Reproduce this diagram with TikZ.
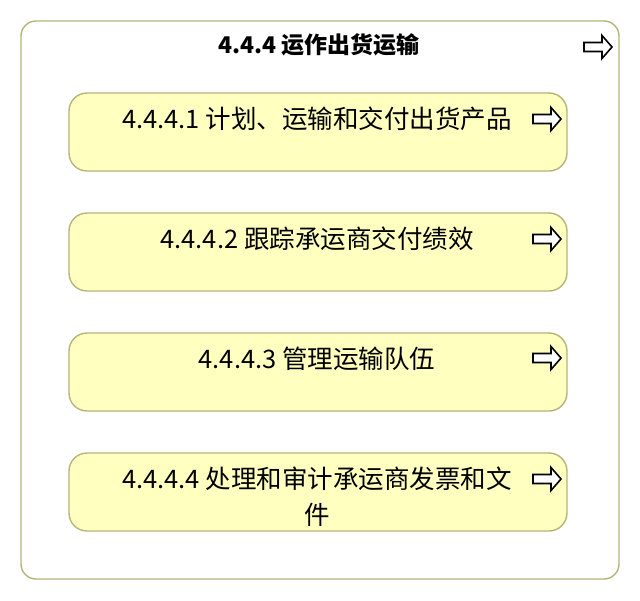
\documentclass[tikz,border=0pt]{standalone}
\usepackage{fontspec}
\setmainfont{Noto Sans CJK SC}
\usetikzlibrary{positioning, calc}

\definecolor{boxfill}{HTML}{FFFFC0}
\definecolor{boxline}{HTML}{B4B47C}

% small outlined block arrow, centred at the given point
\newcommand{\flowarrow}[1]{%
  \draw [line width=1.6pt, line join=miter, fill=white, shift={#1}]
    (-14,-4.5) -- (4,-4.5) -- (4,-11.5) -- (14,0) -- (4,11.5) -- (4,4.5) -- (-14,4.5) -- cycle;}

\tikzset{
  procbox/.style={draw=boxline, line width=1.4pt, fill=boxfill, rounded corners=18pt},
  proctext/.style={anchor=base, align=center, font=\fontsize{25.5}{36}\selectfont, inner sep=0pt}
}

\begin{document}
\begin{tikzpicture}[x=1pt, y=-1pt]
        \useasboundingbox (0,0) rectangle (640,600);

        % Outer frame and title
        \draw [draw=boxline, line width=1.4pt, rounded corners=15pt] (21,21) rectangle (619,579);
        \node (title) [anchor=base, inner sep=0pt, font=\bfseries\fontsize{23}{26}\selectfont] at (319,53) {4.4.4 运作出货运输};
        \flowarrow{(598,47)}

        % Sub-process boxes
        \draw [procbox] (69,93) rectangle (567,171);
        \draw [procbox] (69,213) rectangle (567,291);
        \draw [procbox] (69,333) rectangle (567,411);
        \draw [procbox] (69,453) rectangle (567,531);

        % Box labels
        \node (p1) [proctext] at (317,128) {4.4.4.1 计划、运输和交付出货产品};
        \node (p2) [proctext] at (317,248) {4.4.4.2 跟踪承运商交付绩效};
        \node (p3) [proctext] at (317,368) {4.4.4.3 管理运输队伍};
        \node (p4) [proctext, anchor=north] at (317,467) {4.4.4.4 处理和审计承运商发票和文\\件};

        % Arrow icons
        \flowarrow{(547,119)}
        \flowarrow{(547,239)}
        \flowarrow{(547,358)}
        \flowarrow{(547,479)}
\end{tikzpicture}
\end{document}
